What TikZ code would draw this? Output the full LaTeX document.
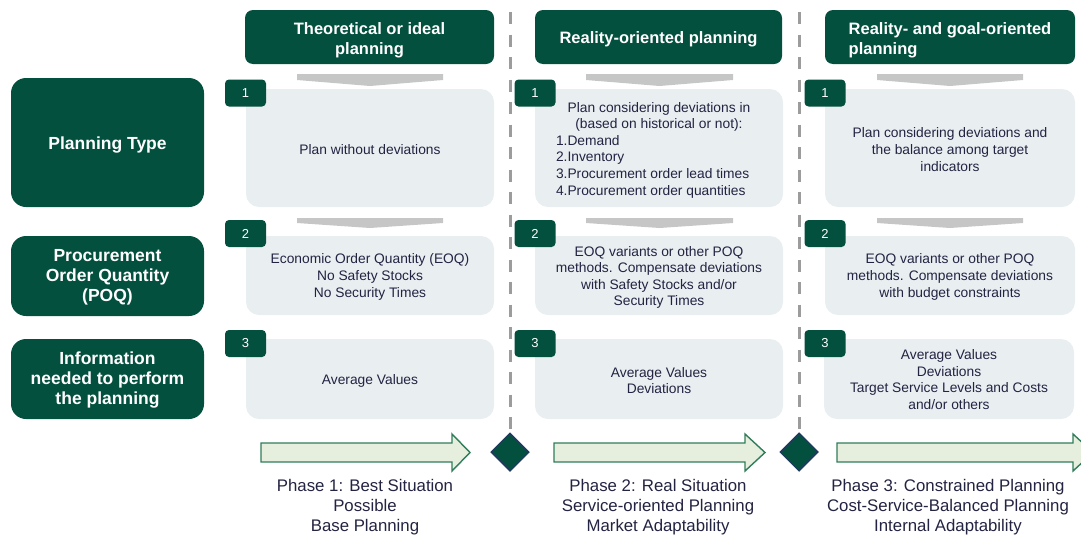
\documentclass[tikz,border=0pt]{standalone}
\usepackage{fontspec}
\setmainfont{Liberation Sans}
\usetikzlibrary{shapes.geometric}
\definecolor{dkgreen}{HTML}{03503E}
\definecolor{boxfill}{HTML}{E9EEF1}
\definecolor{txt}{HTML}{232342}
\definecolor{bargray}{HTML}{C6C6C6}
\definecolor{dashgray}{HTML}{9C9C9C}
\definecolor{arrfill}{HTML}{E6EFDD}
\definecolor{arrline}{HTML}{2F7D5B}
\definecolor{dmdline}{HTML}{1F3A5F}
\begin{document}
\begin{tikzpicture}[x=1pt,y=-1pt,
  hdr/.style={fill=dkgreen, rounded corners=8pt, inner sep=0pt},
  hdrtext/.style={text=white, font=\bfseries\fontsize{16.5}{20}\selectfont, align=center, inner sep=0pt},
  lbl/.style={fill=dkgreen, rounded corners=15pt, inner sep=0pt, minimum width=193pt},
  lbltext/.style={text=white, font=\bfseries\fontsize{17.5}{20}\selectfont, align=center, inner sep=0pt},
  cbox/.style={fill=boxfill, rounded corners=13pt, inner sep=0pt},
  ctext/.style={text=txt, font=\fontsize{13.8}{16.6}\selectfont, align=center, inner sep=0pt},
  badge/.style={fill=dkgreen, rounded corners=4pt, text=white, font=\fontsize{13}{15}\selectfont, minimum width=41pt, minimum height=27pt, inner sep=0pt},
  bar/.style={fill=bargray, draw=none},
  dashline/.style={draw=dashgray, line width=3pt, dash pattern=on 12pt off 10.5pt},
  phasearrow/.style={fill=arrfill, draw=arrline, line width=1.4pt, line join=miter},
  milestone/.style={diamond, aspect=1, fill=dkgreen, draw=dmdline, line width=1.5pt, minimum width=38pt, minimum height=38pt, inner sep=0pt},
  phasetext/.style={text=txt, font=\fontsize{16.8}{20}\selectfont, align=center, inner sep=0pt}
]
\useasboundingbox (0,0) rectangle (1081,536);
\clip (0,0) rectangle (1081,536);

% milestones and dashed separators
\node[milestone] (d1) at (510,452) {};
\node[milestone] (d2) at (799,452) {};
\coordinate (t1) at (510,12);
\coordinate (t2) at (799,12);
\draw[dashline] (t1) -- ([yshift=-4pt]d1.north);
\draw[dashline] (t2) -- ([yshift=-4pt]d2.north);

% headers
\node[hdr, minimum width=249pt, minimum height=54pt] (h1) at (369.5,37) {};
\node[hdr, minimum width=247pt, minimum height=54pt] (h2) at (658.5,37) {};
\node[hdr, minimum width=250pt, minimum height=54pt] (h3) at (950,37) {};
\node[hdrtext] (h1t) at ([yshift=-3pt]h1.center) {Theoretical or ideal\\planning};
\node[hdrtext] (h2t) at ([yshift=-2.5pt]h2.center) {Reality-oriented planning};
\node[hdrtext, align=left] (h3t) at ([yshift=-3pt]h3.center) {Reality- and goal-oriented\\planning};

% gray chevron bars
\foreach \xa/\xb in {297/443, 586/733, 877/1023}{
  \path[bar] (\xa,74) -- (\xb,74) -- (\xb,80) -- ({(\xa+\xb)/2},86) -- (\xa,80) -- cycle;
  \path[bar] (\xa,218) -- (\xb,218) -- (\xb,223) -- ({(\xa+\xb)/2},228) -- (\xa,223) -- cycle;
}

% left labels
\node[lbl, minimum height=129pt] (l1) at (107.5,142.5) {};
\node[lbl, minimum height=80pt] (l2) at (107.5,276) {};
\node[lbl, minimum height=80pt] (l3) at (107.5,379) {};
\node[lbltext] (l1t) at ([yshift=-2.5pt]l1.center) {Planning Type};
\node[lbltext] (l2t) at ([yshift=-1.5pt]l2.center) {Procurement\\Order Quantity\\(POQ)};
\node[lbltext] (l3t) at ([yshift=-1.5pt]l3.center) {Information\\needed to perform\\the planning};

% content boxes
\node[cbox, minimum width=248pt, minimum height=118pt] (b11) at (370,148) {};
\node[cbox, minimum width=248pt, minimum height=118pt] (b12) at (659,148) {};
\node[cbox, minimum width=250pt, minimum height=118pt] (b13) at (950,148) {};
\node[cbox, minimum width=248pt, minimum height=79pt] (b21) at (370,275.5) {};
\node[cbox, minimum width=248pt, minimum height=79pt] (b22) at (659,275.5) {};
\node[cbox, minimum width=250pt, minimum height=79pt] (b23) at (950,275.5) {};
\node[cbox, minimum width=248pt, minimum height=80pt] (b31) at (370,379) {};
\node[cbox, minimum width=248pt, minimum height=80pt] (b32) at (659,379) {};
\node[cbox, minimum width=250pt, minimum height=80pt] (b33) at (949,379) {};

% content texts
\node[ctext] (c11) at ([yshift=-1.5pt]b11.center) {Plan without deviations};
\node[ctext] (c12) at ([yshift=-2pt]b12.center) {Plan considering deviations in\\(based on historical or not):\\\makebox[206pt][l]{1.Demand}\\\makebox[206pt][l]{2.Inventory}\\\makebox[206pt][l]{3.Procurement order lead times}\\\makebox[206pt][l]{4.Procurement order quantities}};
\node[ctext] (c13) at ([yshift=-1.5pt]b13.center) {Plan considering deviations and\\the balance among target\\indicators};
\node[ctext] (c21) at ([yshift=-1.5pt]b21.center) {Economic Order Quantity (EOQ)\\No Safety Stocks\\No Security Times};
\node[ctext] (c22) at ([yshift=-2pt]b22.center) {EOQ variants or other POQ\\methods. Compensate deviations\\with Safety Stocks and/or\\Security Times};
\node[ctext] (c23) at ([yshift=-1.5pt]b23.center) {EOQ variants or other POQ\\methods. Compensate deviations\\with budget constraints};
\node[ctext] (c31) at ([yshift=-1.5pt]b31.center) {Average Values};
\node[ctext] (c32) at ([yshift=-1.5pt]b32.center) {Average Values\\Deviations};
\node[ctext] (c33) at ([yshift=-0.5pt]b33.center) {Average Values\\Deviations\\Target Service Levels and Costs\\and/or others};

% badges
\foreach \bx/\col in {245.5/1, 535/2, 825/3}{
  \node[badge] (n1\col) at (\bx,93) {1};
  \node[badge] (n2\col) at (\bx,233.5) {2};
  \node[badge] (n3\col) at (\bx,343.5) {3};
}

% phase arrows
\foreach \xl/\xh/\xt in {261/452/470, 554/745/765, 837/1073/1093}{
  \draw[phasearrow] (\xl,443) -- (\xh,443) -- (\xh,434) -- (\xt,452.5) -- (\xh,471) -- (\xh,462) -- (\xl,462) -- cycle;
}

% phase texts
\node[phasetext] (p1) at (365,507) {Phase 1: Best Situation\\Possible\\Base Planning};
\node[phasetext] (p2) at (658,507) {Phase 2: Real Situation\\Service-oriented Planning\\Market Adaptability};
\node[phasetext] (p3) at (948,507) {Phase 3: Constrained Planning\\Cost-Service-Balanced Planning\\Internal Adaptability};
\end{tikzpicture}
\end{document}
